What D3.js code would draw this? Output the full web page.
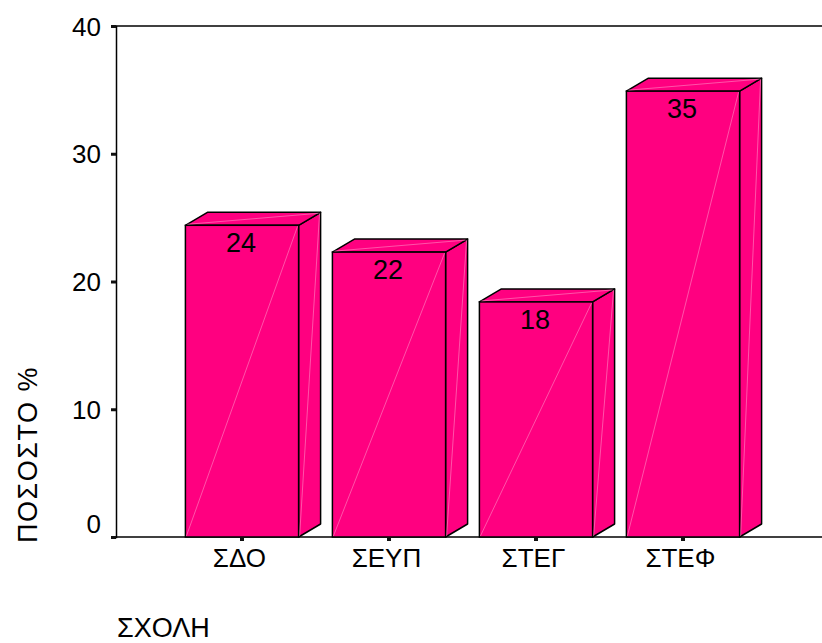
<!DOCTYPE html>
<html>
<head>
<meta charset="utf-8">
<script src="https://cdn.jsdelivr.net/npm/d3@7"></script>
<style>
  html, body { margin: 0; padding: 0; background: #fff; }
  svg { display: block; font-family: Arial, "Liberation Sans", sans-serif; }
</style>
</head>
<body>
<svg id="chart" width="822" height="643"></svg>
<script>
// School categories and their percentage shares
const categories = ["ΣΔΟ", "ΣΕΥΠ", "ΣΤΕΓ", "ΣΤΕΦ"];
const values = [24.4, 22.3, 18.4, 34.9];
const yTicks = [0, 10, 20, 30, 40];
const yTitle = "ΠΟΣΟΣΤΟ %";
const xTitle = "ΣΧΟΛΗ";

const W = 822, H = 643;
const plotLeft = 116, plotTop = 26, plotBottom = 537;
const depthX = 22, depthY = -13;
const fill = "#ff0080";
const fontSize = 26;

const svg = d3.select("#chart");

const y = d3.scaleLinear().domain([0, 40]).range([plotBottom, plotTop]);
const x = d3.scaleBand()
  .domain(categories)
  .range([168.5, 756.5])
  .paddingInner(0.23)
  .paddingOuter(0.115);

// Frame: top rule and baseline extend to the right edge
svg.append("line").attr("x1", plotLeft).attr("x2", W).attr("y1", plotTop).attr("y2", plotTop)
  .attr("stroke", "#000").attr("stroke-width", 1.5);
svg.append("line").attr("x1", plotLeft).attr("x2", W).attr("y1", plotBottom).attr("y2", plotBottom)
  .attr("stroke", "#000").attr("stroke-width", 1.5);

// Y axis
const yAxis = svg.append("g")
  .attr("transform", `translate(${plotLeft},0)`)
  .call(d3.axisLeft(y).tickValues(yTicks).tickSize(5).tickPadding(10).tickFormat(d3.format("d")));
yAxis.select(".domain").attr("stroke", "#000").attr("stroke-width", 1.5);
yAxis.selectAll(".tick line").attr("stroke", "#111").attr("stroke-width", 3);
yAxis.selectAll(".tick text")
  .attr("font-size", fontSize).attr("font-family", "Arial, 'Liberation Sans', sans-serif")
  .attr("fill", "#000")
  .attr("dy", d => d === 0 ? "-0.16em" : "0.35em");

// Bars drawn as prisms: front, right side and top faces
const bars = svg.append("g").selectAll("g.bar")
  .data(categories.map((c, i) => ({ c, v: values[i] })))
  .join("g").attr("class", "bar");

bars.each(function (d) {
  const g = d3.select(this);
  const x0 = x(d.c), x1 = x0 + x.bandwidth();
  const yt = y(d.v), yb = y(0);
  const line = d3.line();

  // right side
  g.append("path")
    .attr("d", line([[x1, yb], [x1 + depthX, yb + depthY], [x1 + depthX, yt + depthY], [x1, yt]]) + "Z")
    .attr("fill", fill).attr("stroke", "#000").attr("stroke-width", 1.5).attr("stroke-linejoin", "round");
  // top
  g.append("path")
    .attr("d", line([[x0, yt], [x0 + depthX, yt + depthY], [x1 + depthX, yt + depthY], [x1, yt]]) + "Z")
    .attr("fill", fill).attr("stroke", "#000").attr("stroke-width", 1.5).attr("stroke-linejoin", "round");
  // front
  g.append("rect")
    .attr("x", x0).attr("y", yt).attr("width", x1 - x0).attr("height", yb - yt)
    .attr("fill", fill).attr("stroke", "#000").attr("stroke-width", 1.5);

  // faint highlight diagonals
  const diag = [
    [[x0 + 1, yb - 1], [x1 - 1, yt + 1]],
    [[x1 + 1, yb - 1], [x1 + depthX - 1, yt + depthY + 1]],
    [[x0 + 2, yt - 1], [x1 + depthX - 2, yt + depthY + 1]]
  ];
  diag.forEach(p => {
    g.append("path").attr("d", line(p))
      .attr("stroke", "#ff8cc4").attr("stroke-width", 0.6).attr("fill", "none");
  });

  // value label
  g.append("text")
    .attr("x", (x0 + x1) / 2 - 1).attr("y", yt + 27)
    .attr("text-anchor", "middle")
    .attr("font-size", 27)
    .attr("fill", "#000")
    .text(d3.format(".0f")(d.v));
});

// X axis ticks and category labels
const xAxis = svg.append("g")
  .attr("transform", `translate(0,${plotBottom})`)
  .call(d3.axisBottom(x).tickSize(4).tickPadding(8));
xAxis.select(".domain").remove();
xAxis.selectAll(".tick line").attr("stroke", "#111").attr("stroke-width", 4);
xAxis.selectAll(".tick text")
  .attr("font-size", fontSize).attr("font-family", "Arial, 'Liberation Sans', sans-serif")
  .attr("fill", "#000")
  .attr("dx", "-0.1em");

// Axis titles
svg.append("text")
  .attr("transform", `translate(37,543) rotate(-90)`)
  .attr("font-size", 27).attr("fill", "#000")
  .attr("letter-spacing", 1.5)
  .text(yTitle);

svg.append("text")
  .attr("x", 117).attr("y", 637)
  .attr("font-size", 27).attr("fill", "#000")
  .text(xTitle);
</script>
</body>
</html>
